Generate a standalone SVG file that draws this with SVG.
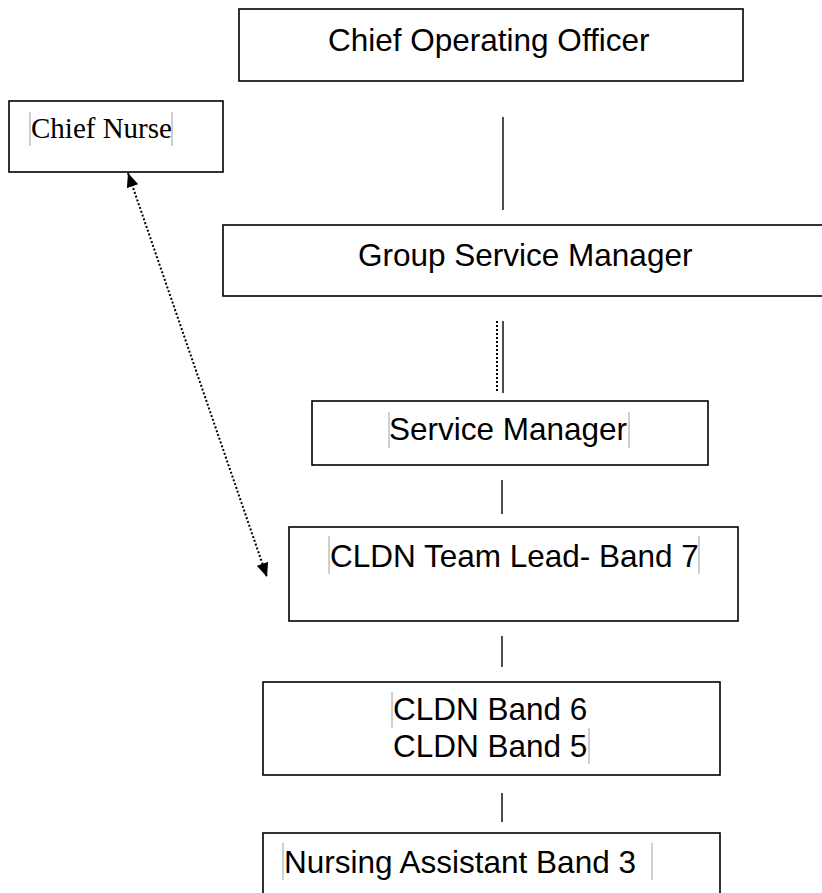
<svg xmlns="http://www.w3.org/2000/svg" width="822" height="893" viewBox="0 0 822 893">
<style>
.box{fill:#fff;stroke:#000;stroke-width:1.6}
.t{font-family:"Liberation Sans",Arial,sans-serif;font-size:31.5px;fill:#000}
.ts{font-family:"Liberation Serif","Times New Roman",serif;font-size:29px;fill:#000}
.cur{stroke:#a0a0a0;stroke-width:1}
.ln{stroke:#000;stroke-width:1.4;fill:none}
.dot{stroke:#000;stroke-width:2;stroke-dasharray:2 2;fill:none}
</style>
<defs>
<marker id="ah" viewBox="0 0 14 12" refX="14" refY="6" markerWidth="14" markerHeight="12" markerUnits="userSpaceOnUse" orient="auto-start-reverse">
<path d="M0,0 L14,6 L0,12 Z" fill="#000"/>
</marker>
</defs>
<rect width="822" height="893" fill="#fff"/>
<g id="connectors">
<line class="ln" x1="503" y1="117" x2="503" y2="210"/>
<line class="dot" x1="497" y1="321" x2="497" y2="393"/>
<line class="ln" x1="503" y1="321" x2="503" y2="393"/>
<line class="ln" x1="502" y1="480" x2="502" y2="514"/>
<line class="ln" x1="502" y1="636" x2="502" y2="667"/>
<line class="ln" x1="502" y1="793" x2="502" y2="822"/>
<line class="dot" x1="128" y1="173" x2="267" y2="577" stroke-width="1.8" marker-start="url(#ah)" marker-end="url(#ah)"/>
</g>
<g id="coo">
<rect class="box" x="239" y="9" width="504" height="72"/>
<text class="t" x="328" y="51">Chief Operating Officer</text>
</g>
<g id="chief-nurse">
<rect class="box" x="9" y="101" width="214" height="71"/>
<line class="cur" x1="30" y1="112" x2="30" y2="146"/>
<text class="ts" x="31" y="138">Chief Nurse</text>
<line class="cur" x1="172" y1="112" x2="172" y2="146"/>
</g>
<g id="gsm">
<rect class="box" x="223" y="225" width="620" height="71"/>
<text class="t" x="358" y="266">Group Service Manager</text>
</g>
<g id="sm">
<rect class="box" x="312" y="401" width="396" height="64"/>
<line class="cur" x1="389" y1="412" x2="389" y2="448"/>
<text class="t" x="389" y="440">Service Manager</text>
<line class="cur" x1="629" y1="412" x2="629" y2="448"/>
</g>
<g id="team-lead">
<rect class="box" x="289" y="527" width="449" height="94"/>
<line class="cur" x1="329" y1="536" x2="329" y2="574"/>
<text class="t" x="330" y="567">CLDN Team Lead- Band 7</text>
<line class="cur" x1="699" y1="536" x2="699" y2="574"/>
</g>
<g id="band65">
<rect class="box" x="263" y="682" width="457" height="93"/>
<line class="cur" x1="392" y1="692" x2="392" y2="728"/>
<text class="t" x="393" y="720">CLDN Band 6</text>
<text class="t" x="393" y="757">CLDN Band 5</text>
<line class="cur" x1="589" y1="728" x2="589" y2="764"/>
</g>
<g id="nursing-assistant">
<rect class="box" x="263" y="833" width="457" height="80"/>
<line class="cur" x1="283" y1="843" x2="283" y2="880"/>
<text class="t" x="284" y="873">Nursing Assistant Band 3</text>
<line class="cur" x1="652" y1="843" x2="652" y2="880"/>
</g>
</svg>
